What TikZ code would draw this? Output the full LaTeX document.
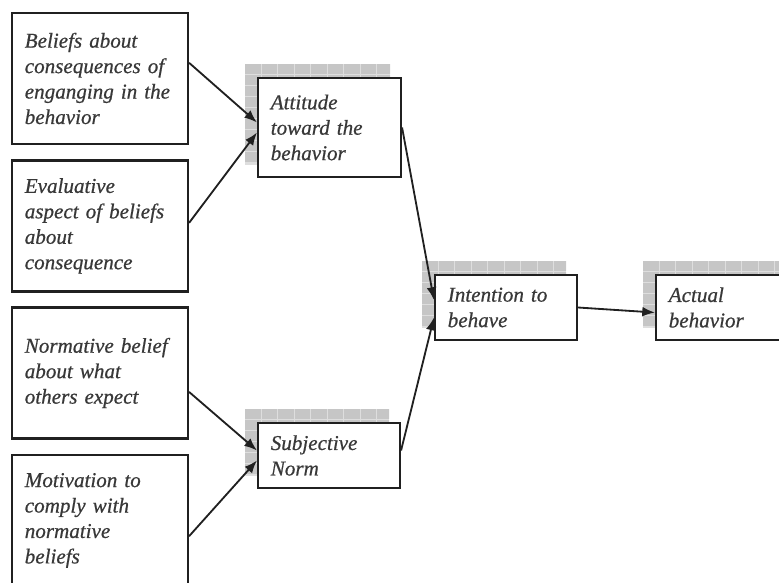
\documentclass[tikz,border=0pt]{standalone}
\usepackage{fontspec}
\setmainfont{Liberation Serif}[ItalicFeatures={FakeBold=0.6}]
\usetikzlibrary{arrows.meta,backgrounds}
\definecolor{boxline}{HTML}{202020}
\definecolor{txt}{HTML}{383838}
\definecolor{cellgray}{HTML}{C6C6C6}
\definecolor{cellline}{HTML}{DEDEDE}
\begin{document}
\begin{tikzpicture}[x=0.025cm, y=-0.025cm,
    every node/.style={rectangle, draw=boxline, line width=1.5pt, fill=white, align=left,
      inner xsep=0.32cm, inner ysep=0pt, text=txt, font=\fontsize{15}{18.1}\selectfont\itshape},
    belief/.style={text width=3.76cm, minimum height=3.275cm},
    construct/.style={text width=2.91cm, minimum height=1.625cm},
    influence/.style={draw=boxline, line width=1.3pt, -{Latex[length=9pt,width=7pt]}}]
      \useasboundingbox (0,0) rectangle (779,583);
      \clip (0,0) rectangle (779,583);
      \node (1) at (100,78.5) [belief] {Beliefs about\\consequences of\\enganging in the\\behavior};
      \node (2) at (100,226) [belief] {Evaluative\\aspect of beliefs\\about\\consequence};
      \node (3) at (100,373) [belief] {Normative belief\\about what\\others expect};
      \node (4) at (100,520.5) [belief] {Motivation to\\comply with\\normative\\beliefs};
      \node (5) at (329.5,127.5) [construct, text width=2.935cm, minimum height=2.475cm] {Attitude\\toward the\\behavior};
      \node (6) at (329,455.5) [construct] {Subjective\\Norm};
      \node (7) at (506,307.5) [construct] {Intention to\\behave};
      \node (8) at (727,307.5) [construct] {Actual\\behavior};
      % grid shadows behind the four constructs
      \begin{pgfonlayer}{background}
        \foreach \n/\rows in {5/9, 6/6, 7/6, 8/6} {
          \begin{scope}
            \clip ([shift={(-12,-13)}]\n.north west) rectangle ([shift={(-12,-13)}]\n.south east);
            \fill[cellline] ([shift={(-12,-13)}]\n.north west) rectangle ([shift={(-12,-13)}]\n.south east);
            \foreach \i in {0,...,8}
              \foreach \j in {1,...,\rows}
                \fill[cellgray] ([shift={(\i*16.5-11.5,\j*11-23.5)}]\n.north west) rectangle +(15.5,10);
          \end{scope}
        }
      \end{pgfonlayer}
      \foreach \source/\dest in {1.10/5.176, 2.2/5.184, 3.348/6.176, 4.350/6.184, 5.east/7.174, 6.4/7.188, 7.east/8.184}
        \path (\source) edge[influence] (\dest);
\end{tikzpicture}
\end{document}
